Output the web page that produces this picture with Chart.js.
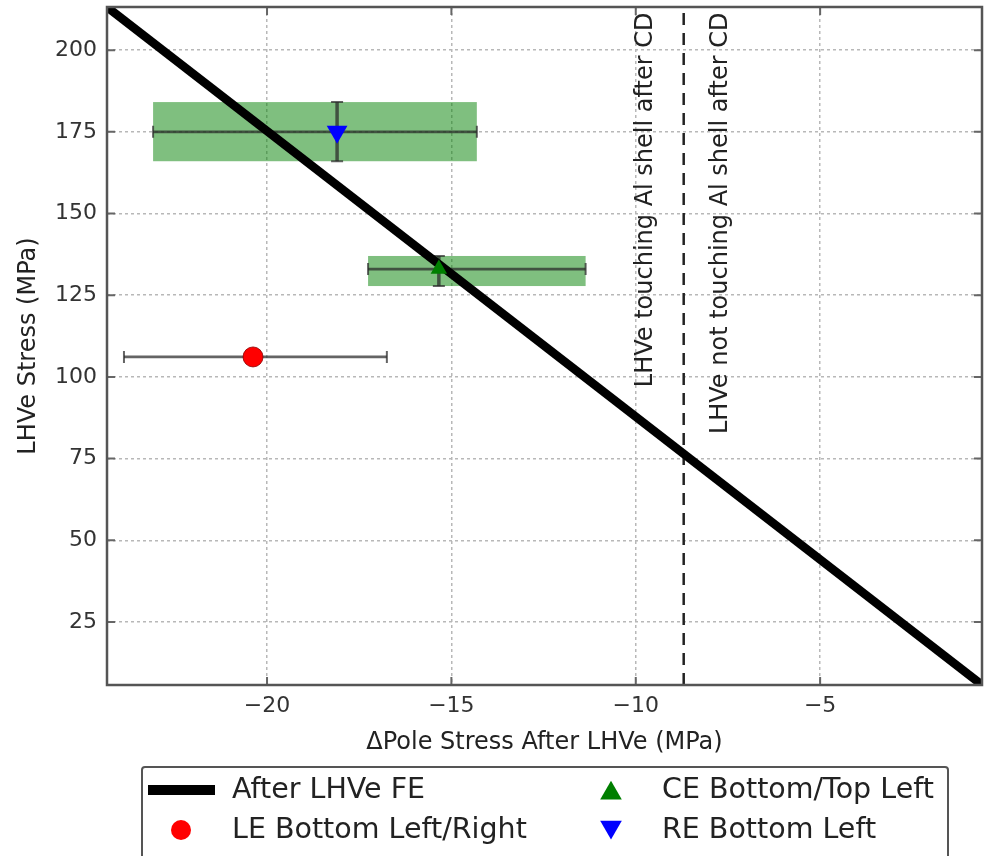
<!DOCTYPE html>
<html>
<head>
<meta charset="utf-8">
<title>LHVe Stress vs ΔPole Stress</title>
<script src="https://cdn.jsdelivr.net/npm/chart.js@4.4.1/dist/chart.umd.min.js"></script>
<style>
  html, body { margin: 0; padding: 0; background: #fff; }
  #wrap { width: 985px; height: 856px; }
</style>
</head>
<body>
<div id="wrap"><canvas id="stressChart"></canvas></div>
<script>
// values
const seriesNames = ['After LHVe FE', 'LE Bottom Left/Right', 'CE Bottom/Top Left', 'RE Bottom Left'];
const feLineX = [-24.34, -0.61];
const feLineY = [213.2, 5.7];
// measured points, order: LE, CE, RE
const pointX = [-20.38, -15.34, -18.1];
const pointY = [106.1, 133.0, 175.0];
const xErrLow = [-23.88, -17.26, -23.09];
const xErrHigh = [-16.75, -11.36, -14.31];
const yErrLow = [106.1, 127.8, 166.0];
const yErrHigh = [106.1, 137.0, 184.1];
const hasBand = [false, true, true];
const boundaryX = -8.7;
const xTicks = [-20, -15, -10, -5];
const yTicks = [25, 50, 75, 100, 125, 150, 175, 200];
const notes = ['LHVe touching Al shell after CD', 'LHVe not touching Al shell after CD'];
const noteX = [-9.57, -7.52];
const noteTop = 211.5;

const xMin = -24.34, xMax = -0.61, yMin = 5.7, yMax = 213.2;

const markerColors = ['#ff0000', '#007f00', '#0000ff'];
const markerStyles = ['circle', 'triangle', 'triangle'];
const markerRot = [0, 0, 180];
const markerSize = [10, 9.5, 12];
const legendMarkerSize = [10, 12.5, 12.5];
const FONT = "'DejaVu Sans', sans-serif";

const fmt = v => (v < 0 ? '\u2212' + Math.abs(v) : String(v));

function drawMarker(ctx, style, rot, r, cx, cy, color) {
  ctx.save();
  ctx.fillStyle = color;
  ctx.beginPath();
  if (style === 'circle') {
    ctx.arc(cx, cy, r, 0, Math.PI * 2);
  } else {
    const s = rot ? -1 : 1;
    ctx.moveTo(cx, cy - s * r * 0.75);
    ctx.lineTo(cx - r * 0.866, cy + s * r * 0.75);
    ctx.lineTo(cx + r * 0.866, cy + s * r * 0.75);
    ctx.closePath();
  }
  ctx.fill();
  ctx.restore();
}

const extras = {
  id: 'extras',
  beforeDatasetsDraw(chart) {
    const {ctx, chartArea: a, scales: {x, y}} = chart;
    ctx.save();
    ctx.beginPath();
    ctx.rect(a.left, a.top, a.width, a.height);
    ctx.clip();
    // shaded error bands
    ctx.fillStyle = 'rgba(0,128,0,0.5)';
    pointX.forEach((_, i) => {
      if (!hasBand[i]) return;
      const l = x.getPixelForValue(xErrLow[i]), r = x.getPixelForValue(xErrHigh[i]);
      const t = y.getPixelForValue(yErrHigh[i]), b = y.getPixelForValue(yErrLow[i]);
      ctx.fillRect(l, t, r - l, b - t);
    });
    // error bars
    ctx.strokeStyle = 'rgba(40,40,40,0.72)';
    pointX.forEach((px, i) => {
      const cx = x.getPixelForValue(px), cy = y.getPixelForValue(pointY[i]);
      const l = x.getPixelForValue(xErrLow[i]), r = x.getPixelForValue(xErrHigh[i]);
      ctx.lineWidth = 2.8;
      ctx.beginPath(); ctx.moveTo(l, cy); ctx.lineTo(r, cy); ctx.stroke();
      ctx.lineWidth = 2;
      ctx.beginPath();
      ctx.moveTo(l, cy - 6); ctx.lineTo(l, cy + 6);
      ctx.moveTo(r, cy - 6); ctx.lineTo(r, cy + 6);
      ctx.stroke();
      const t = y.getPixelForValue(yErrHigh[i]), b = y.getPixelForValue(yErrLow[i]);
      if (b - t > 1) {
        ctx.lineWidth = 3.5;
        ctx.beginPath(); ctx.moveTo(cx, t); ctx.lineTo(cx, b); ctx.stroke();
        ctx.lineWidth = 2;
        ctx.beginPath();
        ctx.moveTo(cx - 6, t); ctx.lineTo(cx + 6, t);
        ctx.moveTo(cx - 6, b); ctx.lineTo(cx + 6, b);
        ctx.stroke();
      }
    });
    ctx.restore();
  },
  afterDraw(chart) {
    const {ctx, chartArea: a, scales: {x, y}} = chart;
    ctx.save();
    // inward tick marks on all four sides
    ctx.strokeStyle = '#666';
    ctx.lineWidth = 2;
    ctx.beginPath();
    xTicks.forEach(v => {
      const px = x.getPixelForValue(v);
      ctx.moveTo(px, a.bottom); ctx.lineTo(px, a.bottom - 8);
      ctx.moveTo(px, a.top); ctx.lineTo(px, a.top + 8);
    });
    yTicks.forEach(v => {
      const py = y.getPixelForValue(v);
      ctx.moveTo(a.left, py); ctx.lineTo(a.left + 8, py);
      ctx.moveTo(a.right, py); ctx.lineTo(a.right - 8, py);
    });
    ctx.stroke();
    // axes frame
    ctx.strokeStyle = '#555';
    ctx.lineWidth = 2.5;
    ctx.strokeRect(a.left, a.top, a.width, a.height);

    // rotated notes beside the boundary
    ctx.fillStyle = '#222';
    ctx.font = '24px ' + FONT;
    ctx.textAlign = 'right';
    ctx.textBaseline = 'alphabetic';
    notes.forEach((txt, i) => {
      ctx.save();
      ctx.translate(x.getPixelForValue(noteX[i]), y.getPixelForValue(noteTop));
      ctx.rotate(-Math.PI / 2);
      ctx.fillText(txt, 0, 0);
      ctx.restore();
    });

    // legend, two columns
    ctx.fillStyle = '#fff';
    ctx.strokeStyle = '#555';
    ctx.lineWidth = 2;
    ctx.beginPath();
    ctx.roundRect(142, 767, 806, 110, 3);
    ctx.fill();
    ctx.stroke();
    const items = chart.data.datasets.filter(d => d.inLegend);
    ctx.font = '28.5px ' + FONT;
    ctx.textAlign = 'left';
    ctx.textBaseline = 'middle';
    items.forEach((d, i) => {
      const col = Math.floor(i / 2), row = i % 2;
      const hx = col ? 611 : 181, tx = col ? 662 : 232, ly = 790 + row * 40;
      if (d.showLine) {
        ctx.strokeStyle = d.borderColor;
        ctx.lineWidth = 10;
        ctx.beginPath(); ctx.moveTo(148, ly); ctx.lineTo(215, ly); ctx.stroke();
      } else {
        drawMarker(ctx, d.pointStyle, d.rotation, d.legendSize, hx, ly, d.backgroundColor);
      }
      ctx.fillStyle = '#222';
      ctx.fillText(d.label, tx, ly + 1);
    });
    ctx.restore();
  }
};

const feData = feLineX.map((v, i) => ({x: v, y: feLineY[i]}));
// legend is column-major: FE, LE | CE, RE
const markerSets = [0, 1, 2].map(i => ({
  label: seriesNames[i + 1],
  data: [{x: pointX[i], y: pointY[i]}],
  pointStyle: markerStyles[i],
  rotation: markerRot[i],
  pointRadius: markerSize[i],
  legendSize: legendMarkerSize[i],
  backgroundColor: markerColors[i],
  borderColor: i === 0 ? 'rgba(140,0,0,0.8)' : markerColors[i],
  borderWidth: i === 0 ? 1 : 0,
  showLine: false,
  inLegend: true,
  order: 0
}));

new Chart(document.getElementById('stressChart'), {
  type: 'scatter',
  data: {
    datasets: [
      {
        label: seriesNames[0],
        data: feData,
        showLine: true,
        borderColor: '#000',
        backgroundColor: '#000',
        borderWidth: 8.5,
        pointRadius: 0,
        clip: 0,
        inLegend: true,
        order: 2
      },
      markerSets[0], markerSets[1], markerSets[2],
      {
        label: 'boundary',
        data: [{x: boundaryX, y: yMin}, {x: boundaryX, y: yMax}],
        showLine: true,
        borderColor: '#222',
        borderWidth: 2.5,
        borderDash: [12, 8],
        pointRadius: 0,
        clip: 0,
        order: 3
      }
    ]
  },
  options: {
    responsive: true,
    maintainAspectRatio: false,
    animation: false,
    layout: { autoPadding: false, padding: { left: 0, top: 7, right: 3, bottom: 91 } },
    plugins: {
      legend: { display: false },
      tooltip: { enabled: false }
    },
    scales: {
      x: {
        type: 'linear',
        min: xMin,
        max: xMax,
        afterBuildTicks: s => { s.ticks = xTicks.map(v => ({value: v})); },
        afterFit: s => { s.height = 80; s.paddingLeft = 0; s.paddingRight = 0; },
        border: { display: false, dash: [3, 3] },
        grid: { color: '#b8b8b8', lineWidth: 1.5, drawTicks: false },
        ticks: { color: '#333', font: { family: FONT, size: 22 }, padding: 8, callback: fmt, maxRotation: 0 },
        title: { display: true, text: '\u0394Pole Stress After LHVe (MPa)', color: '#222',
                 font: { family: FONT, size: 24 }, padding: { top: 0, bottom: 8 } }
      },
      y: {
        type: 'linear',
        min: yMin,
        max: yMax,
        afterBuildTicks: s => { s.ticks = yTicks.map(v => ({value: v})); },
        afterFit: s => { s.width = 107; s.paddingTop = 0; s.paddingBottom = 0; },
        border: { display: false, dash: [3, 3] },
        grid: { color: '#b8b8b8', lineWidth: 1.5, drawTicks: false },
        ticks: { color: '#333', font: { family: FONT, size: 22 }, padding: 10, callback: fmt },
        title: { display: true, text: 'LHVe Stress (MPa)', color: '#222',
                 font: { family: FONT, size: 24 }, padding: { top: 14, bottom: 0 } }
      }
    }
  },
  plugins: [extras]
});
</script>
</body>
</html>
